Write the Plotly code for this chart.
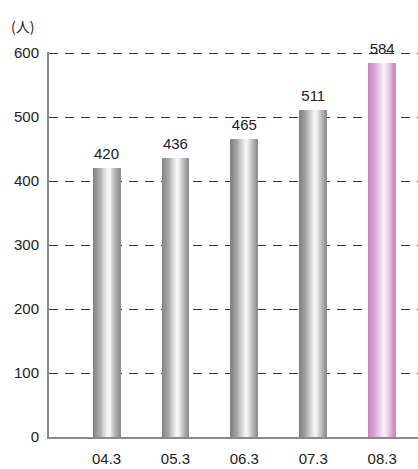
import plotly.graph_objects as go

categories = ["04.3", "05.3", "06.3", "07.3", "08.3"]
values = [420, 436, 465, 511, 584]
y_ticks = [0, 100, 200, 300, 400, 500, 600]
unit_label = "(人)"

gray_stops = [(0.0, (125, 125, 125)), (0.3, (178, 178, 178)), (0.55, (246, 246, 246)),
              (0.65, (240, 240, 240)), (0.85, (176, 176, 176)), (1.0, (140, 140, 140))]
pink_stops = [(0.0, (196, 132, 190)), (0.3, (222, 178, 218)), (0.55, (250, 240, 250)),
              (0.65, (246, 232, 246)), (0.85, (220, 170, 214)), (1.0, (198, 136, 192))]


def interp(stops, t):
    for (p0, c0), (p1, c1) in zip(stops[:-1], stops[1:]):
        if p0 <= t <= p1:
            f = (t - p0) / (p1 - p0)
            c = [round(a + (b - a) * f) for a, b in zip(c0, c1)]
            return "rgb({},{},{})".format(*c)
    return "rgb({},{},{})".format(*stops[-1][1])


bar_w = 0.39
n_slices = 30
sw = bar_w / n_slices
fig = go.Figure()
for i in range(n_slices):
    t = (i + 0.5) / n_slices
    cols = [interp(gray_stops, t)] * (len(categories) - 1) + [interp(pink_stops, t)]
    fig.add_trace(go.Bar(
        x=categories, y=values, width=sw * 1.15, offset=-bar_w / 2 + i * sw,
        marker=dict(color=cols, line=dict(width=0)), hoverinfo="skip", showlegend=False,
    ))

fig.add_trace(go.Scatter(
    x=categories, y=values, mode="markers+text", text=[str(v) for v in values],
    textposition="top center", textfont=dict(size=15, color="#222222"),
    marker=dict(size=7, color="rgba(0,0,0,0)"), cliponaxis=False,
    showlegend=False, hoverinfo="skip",
))

fig.update_layout(
    width=418, height=469,
    margin=dict(l=49, r=0, t=52, b=32),
    paper_bgcolor="white", plot_bgcolor="white",
    barmode="overlay", bargap=0,
    font=dict(family="Liberation Sans, Arial, sans-serif", size=15, color="#222222"),
    xaxis=dict(type="category", range=[-0.835, 4.52], showgrid=False,
               showline=True, linecolor="#8a8a8a", linewidth=2,
               ticks="outside", ticklen=7, tickcolor="rgba(0,0,0,0)"),
    yaxis=dict(range=[0, 601.6], tickvals=y_ticks, showgrid=True,
               gridcolor="#333333", gridwidth=1, griddash="9px,7px",
               showline=True, linecolor="#8a8a8a", linewidth=2, zeroline=False,
               ticks="outside", ticklen=5, tickcolor="rgba(0,0,0,0)"),
    annotations=[dict(text=unit_label, xref="paper", yref="paper", x=-0.108, y=1.0,
                      yshift=26, xanchor="left", yanchor="middle", showarrow=False,
                      font=dict(family="Noto Sans CJK JP, sans-serif", size=14, color="#222222"))],
)

fig.write_html("out.html", config={"displayModeBar": False},
               post_script="document.body.style.margin='0';document.body.style.padding='0';")
